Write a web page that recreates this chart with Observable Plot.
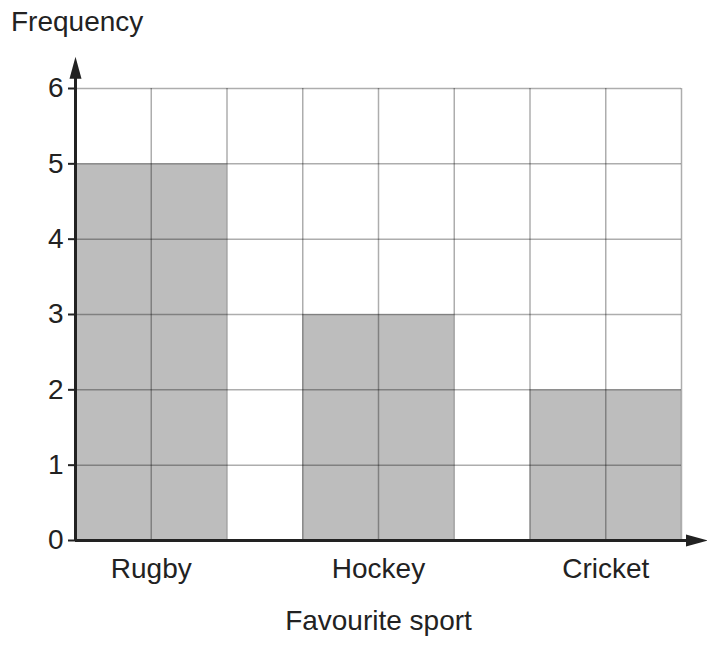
<!DOCTYPE html>
<html>
<head>
<meta charset="utf-8">
<script src="https://cdn.jsdelivr.net/npm/d3@7"></script>
<script src="https://cdn.jsdelivr.net/npm/@observablehq/plot@0.6"></script>
<style>
  html, body { margin: 0; padding: 0; background: #fff; }
  #wrap { position: relative; width: 707px; height: 645px; font-family: "Liberation Sans", Arial, sans-serif; }
  #ylabel { position: absolute; left: 11px; top: 6px; font-size: 28px; color: #222; font-family: "Liberation Sans", Arial, sans-serif; }
</style>
</head>
<body>
<div id="wrap"><div id="ylabel">Frequency</div></div>
<script>
const categories = ["Rugby", "Hockey", "Cricket"];
const frequencies = [5, 3, 2];
const yTicks = [0, 1, 2, 3, 4, 5, 6];
const xLabel = "Favourite sport";

const bars = categories.map((c, i) => ({ sport: c, x1: i * 3, x2: i * 3 + 2, value: frequencies[i] }));
const cols = d3.range(0, 9);
const rows = d3.range(1, 7);

// narrow arrowhead, tip at origin, pointing up
const arrowHead = {
  draw(ctx) {
    ctx.moveTo(0, 0);
    ctx.lineTo(-6, 22);
    ctx.lineTo(6, 22);
    ctx.closePath();
  }
};

const chart = Plot.plot({
  width: 707,
  height: 645,
  marginLeft: 75,
  marginRight: 26,
  marginTop: 88,
  marginBottom: 105,
  style: { fontFamily: "Liberation Sans, Arial, sans-serif", color: "#222", background: "transparent" },
  x: { domain: [0, 8], axis: null },
  y: { domain: [0, 6], axis: null },
  marks: [
    Plot.rectY(bars, { x1: "x1", x2: "x2", y1: 0, y2: "value", fill: "#bdbdbd" }),
    Plot.ruleX(cols, { x: d => d, y1: 0, y2: 6, stroke: "#000", strokeOpacity: 0.32, strokeWidth: 1.5 }),
    Plot.ruleY(rows, { y: d => d, x1: 0, x2: 8, stroke: "#000", strokeOpacity: 0.32, strokeWidth: 1.5 }),
    Plot.axisY({ ticks: yTicks, tickSize: 7, tickPadding: 5, tickFormat: d3.format("d"), fontSize: 28, label: null, stroke: "#222", strokeWidth: 2 }),
    Plot.ruleX([0], { y1: 0, y2: 6.2, stroke: "#222", strokeWidth: 3 }),
    Plot.ruleY([0], { x1: 0, x2: 8.2, stroke: "#222", strokeWidth: 3 }),
    Plot.dot([0], { x: 0, y: 6.42, symbol: arrowHead, r: 8, fill: "#222", stroke: null }),
    Plot.dot([0], { x: 8.35, y: 0, symbol: arrowHead, r: 8, fill: "#222", stroke: null, rotate: 90 }),
    Plot.text(bars, { x: d => (d.x1 + d.x2) / 2, y: 0, text: "sport", dy: 29, fontSize: 28, fill: "#222" }),
    Plot.text([xLabel], { frameAnchor: "bottom", text: d => d, dy: 89, fontSize: 28, fill: "#222" })
  ]
});
document.getElementById("wrap").appendChild(chart);
chart.style.position = "absolute";
chart.style.left = "0";
chart.style.top = "0";
</script>
</body>
</html>
